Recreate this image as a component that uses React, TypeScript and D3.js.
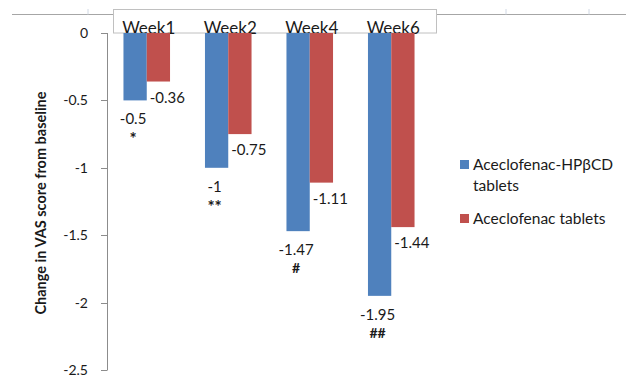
import React from "react";
import * as d3 from "d3";

const weeks = ["Week1", "Week2", "Week4", "Week6"];
const seriesNames = ["Aceclofenac-HPβCD tablets", "Aceclofenac tablets"];
const hpbcdValues = [-0.5, -1, -1.47, -1.95];
const plainValues = [-0.36, -0.75, -1.11, -1.44];
const significance = ["*", "**", "#", "##"];
const yTicks = [0, -0.5, -1, -1.5, -2, -2.5];
const colors = ["#4F81BD", "#C0504D"];

const W = 626;
const H = 376;
const FONT = "Lato, 'Open Sans', sans-serif";

export default function App() {
  const y = d3.scaleLinear().domain([-2.5, 0]).range([370, 33]);
  const x = d3
    .scaleBand<string>()
    .domain(weeks)
    .range([106, 432])
    .paddingInner(3 / 7)
    .paddingOuter(3 / 14);
  const xs = d3
    .scaleBand<string>()
    .domain(["a", "b"])
    .range([0, x.bandwidth()]);
  const series = [hpbcdValues, plainValues];
  const axisX = 107;

  return (
    <svg
      width={W}
      height={H}
      style={{ position: "absolute", left: 0, top: 0, background: "#fff" }}
      fontFamily={FONT}
    >
      {/* top border line with ticks */}
      <line x1={12} x2={W} y1={14.5} y2={14.5} stroke="#a6a6a6" strokeWidth={1} />
      {[88, 506, 589].map((tx) => (
        <line key={tx} x1={tx} x2={tx} y1={9} y2={14.5} stroke="#d0d8e4" strokeWidth={1} />
      ))}
      {/* category label box */}
      <rect x={113.5} y={9.5} width={323} height={23.5} fill="#fff" stroke="#c0c0c0" strokeWidth={1} />
      {weeks.map((w) => (
        <text
          key={w}
          x={(x(w) ?? 0) + x.bandwidth() / 2 + 2}
          y={33.5}
          textAnchor="middle"
          fontSize={17}
          fill="#1a1a1a"
        >
          {w}
        </text>
      ))}

      {/* bars */}
      {series.map((vals, si) =>
        vals.map((v, i) => {
          const bx = (x(weeks[i]) ?? 0) + (xs(si === 0 ? "a" : "b") ?? 0);
          return (
            <rect
              key={`${si}-${i}`}
              x={bx}
              y={y(0)}
              width={xs.bandwidth()}
              height={y(v) - y(0)}
              fill={colors[si]}
            />
          );
        })
      )}

      {/* y axis */}
      <line x1={axisX + 0.5} x2={axisX + 0.5} y1={y(0)} y2={y(-2.5)} stroke="#8c8c8c" strokeWidth={1} />
      {yTicks.map((t) => (
        <g key={t}>
          <line x1={axisX - 6} x2={axisX + 0.5} y1={Math.round(y(t)) + 0.5} y2={Math.round(y(t)) + 0.5} stroke="#8c8c8c" />
          <text x={88} y={y(t) + 5} textAnchor="end" fontSize={14} fill="#1a1a1a">
            {t === 0 ? "0" : String(t)}
          </text>
        </g>
      ))}

      {/* y title */}
      <text
        transform={`translate(46, 203) rotate(-90)`}
        textAnchor="middle"
        fontSize={14.5}
        fontWeight="bold"
        fill="#1a1a1a"
      >
        Change in VAS score from baseline
      </text>

      {/* data labels */}
      {hpbcdValues.map((v, i) => {
        const cx = (x(weeks[i]) ?? 0) + (xs("a") ?? 0) + xs.bandwidth() / 2 - 2;
        return (
          <g key={`l1-${i}`}>
            <text x={cx} y={y(v) + 24} textAnchor="middle" fontSize={15} fill="#1a1a1a">
              {String(v)}
            </text>
            <text
              x={cx}
              y={y(v) + (significance[i].startsWith("*") ? 45 : 42)}
              textAnchor="middle"
              fontSize={significance[i].startsWith("*") ? 17 : 14}
              fontWeight="bold"
              fill="#1a1a1a"
            >
              {significance[i]}
            </text>
          </g>
        );
      })}
      {plainValues.map((v, i) => {
        const cx = (x(weeks[i]) ?? 0) + (xs("b") ?? 0) + xs.bandwidth() / 2 + 9;
        return (
          <text key={`l2-${i}`} x={cx} y={y(v) + 21} textAnchor="middle" fontSize={15} fill="#1a1a1a">
            {String(v)}
          </text>
        );
      })}

      {/* legend */}
      <rect x={460} y={160} width={9} height={9} fill={colors[0]} />
      <text x={473} y={170} fontSize={15.5} fill="#1a1a1a">
        Aceclofenac-HPβCD
      </text>
      <text x={473} y={191} fontSize={15.5} fill="#1a1a1a">
        tablets
      </text>
      <rect x={460} y={214} width={9} height={9} fill={colors[1]} />
      <text x={473} y={224} fontSize={15.5} fill="#1a1a1a">
        {seriesNames[1]}
      </text>
    </svg>
  );
}
